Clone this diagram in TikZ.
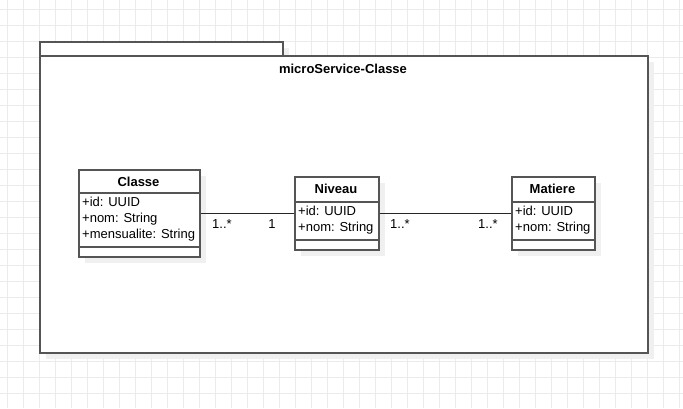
\documentclass[tikz,border=0pt]{standalone}
\usepackage{fontspec}
\setmainfont{Liberation Sans}
\usetikzlibrary{shadows,calc}
\definecolor{gridc}{HTML}{EBEBEB}
\definecolor{edgec}{HTML}{555555}
\definecolor{shadec}{HTML}{F0F0F0}
\begin{document}
\begin{tikzpicture}[x=1pt,y=-1pt,
  box/.style={draw=edgec, line width=1.5pt, fill=white, rectangle, inner sep=0pt, anchor=north west,
    drop shadow={shadow xshift=6pt, shadow yshift=-6pt, opacity=1, fill=shadec}},
  sep/.style={draw=edgec, line width=1.3pt},
  title/.style={font=\fontsize{13}{15}\selectfont\bfseries, inner sep=0pt},
  attrs/.style={font=\fontsize{13}{16}\selectfont, align=left, anchor=north west, inner sep=0pt},
  assoc/.style={draw=black!85, line width=1.1pt},
  mult/.style={font=\fontsize{13}{15}\selectfont, inner sep=0pt}
]
\fill[white] (0,0) rectangle (683,408);
\useasboundingbox (0,0) rectangle (683,408);
\foreach \x in {7,23,...,679} \draw[gridc, line width=0.8pt] (\x,0) -- (\x,408);
\foreach \y in {9,25,...,401} \draw[gridc, line width=0.8pt] (0,\y) -- (683,\y);

% package
\node[box, minimum width=243pt, minimum height=14pt] (pkgtab) at (39,41) {};
\node[box, minimum width=608pt, minimum height=297pt] (pkg) at (39,55) {};
\node[title] (pkgtitle) at (343,69) {microService-Classe};

% Classe
\node[box, minimum width=121pt, minimum height=87pt] (classe) at (78,169) {};
\draw[sep] ($(classe.north west)+(0,24)$) -- ($(classe.north east)+(0,24)$);
\draw[sep] ($(classe.north west)+(0,78)$) -- ($(classe.north east)+(0,78)$);
\node[title] (classeT) at (138.5,181.5) {Classe};
\node[attrs] (classeA) at (82,197) {+id: UUID\\+nom: String\\+mensualite: String};

% Niveau
\node[box, minimum width=84pt, minimum height=73pt] (niveau) at (294,176) {};
\draw[sep] ($(niveau.north west)+(0,26)$) -- ($(niveau.north east)+(0,26)$);
\draw[sep] ($(niveau.north west)+(0,64)$) -- ($(niveau.north east)+(0,64)$);
\node[title] (niveauT) at (336,189) {Niveau};
\node[attrs] (niveauA) at (298,206) {+id: UUID\\+nom: String};

% Matiere
\node[box, minimum width=83pt, minimum height=73pt] (matiere) at (511,176) {};
\draw[sep] ($(matiere.north west)+(0,26)$) -- ($(matiere.north east)+(0,26)$);
\draw[sep] ($(matiere.north west)+(0,64)$) -- ($(matiere.north east)+(0,64)$);
\node[title] (matiereT) at (552.5,189) {Matiere};
\node[attrs] (matiereA) at (515,206) {+id: UUID\\+nom: String};

% associations
\draw[assoc] (classe.east) -- (classe.east -| niveau.west);
\draw[assoc] (niveau.east) -- (niveau.east -| matiere.west);
\node[mult] (m1) at (222,224) {1..*};
\node[mult] (m2) at (272,224) {1};
\node[mult] (m3) at (400,224) {1..*};
\node[mult] (m4) at (488,224) {1..*};
\end{tikzpicture}
\end{document}
